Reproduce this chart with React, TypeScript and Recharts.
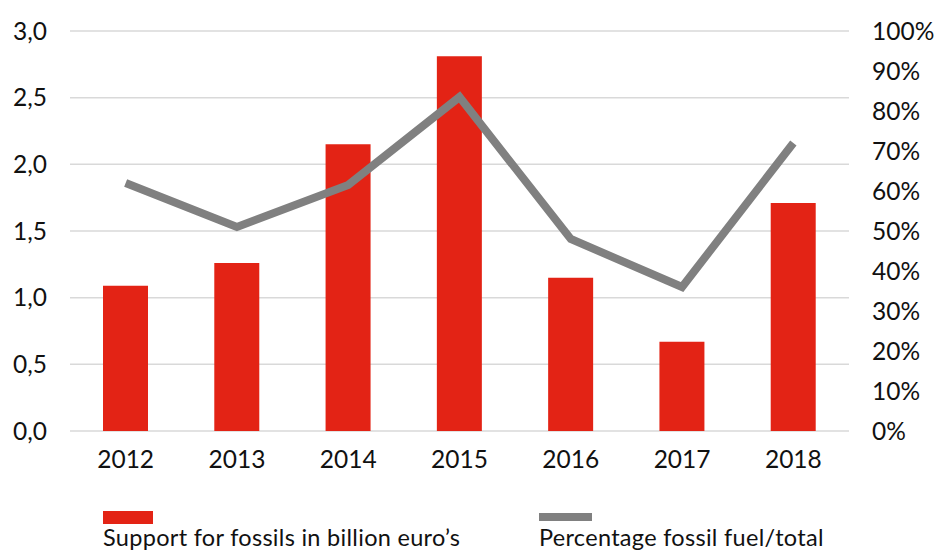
import { ComposedChart, Bar, Line, XAxis, YAxis, CartesianGrid, Legend } from 'recharts';

const YEARS = ['2012', '2013', '2014', '2015', '2016', '2017', '2018'];
const SUPPORT_BN = [1.09, 1.26, 2.15, 2.81, 1.15, 0.67, 1.71];
const FOSSIL_PCT = [62, 51, 61.5, 83.5, 48, 36, 72];
const LEFT_TICKS = [0, 0.5, 1, 1.5, 2, 2.5, 3];
const RIGHT_TICKS = [0, 10, 20, 30, 40, 50, 60, 70, 80, 90, 100];

const RED = '#e32315';
const GREY = '#808080';
const FONT = 'Lato, "Open Sans", sans-serif';

const data = YEARS.map((year, i) => ({ year, support: SUPPORT_BN[i], pct: FOSSIL_PCT[i] }));

function ChartLegend() {
  return (
    <div style={{ position: 'relative', height: 70, width: 938, fontFamily: FONT, fontSize: 23.5, color: '#111', lineHeight: '26px' }}>
      <div style={{ position: 'absolute', left: 103, top: 30, width: 50, height: 13, background: RED }} />
      <div style={{ position: 'absolute', left: 103, top: 43, whiteSpace: 'nowrap', letterSpacing: 0.3 }}>Support for fossils in billion euro’s</div>
      <div style={{ position: 'absolute', left: 539, top: 32, width: 53, height: 8, background: GREY }} />
      <div style={{ position: 'absolute', left: 539, top: 43, whiteSpace: 'nowrap', letterSpacing: 0.3 }}>Percentage fossil fuel/total</div>
    </div>
  );
}

export default function App() {
  const tick = { fill: '#111', fontSize: 24.5, fontFamily: FONT };
  return (
    <div style={{ position: 'absolute', left: 0, top: 0, background: '#fff' }}>
      <ComposedChart width={938} height={551} data={data} margin={{ top: 31, right: 0, bottom: 0, left: 0 }}>
        <CartesianGrid vertical={false} stroke="#d9d9d9" strokeWidth={1.5} yAxisId="left" />
        <XAxis dataKey="year" axisLine={false} tickLine={false} tick={tick} tickMargin={14} height={50} />
        <YAxis yAxisId="left" domain={[0, 3]} ticks={LEFT_TICKS} interval={0} axisLine={false} tickLine={false}
          tick={tick} tickMargin={17} width={70} tickFormatter={(v: number) => v.toFixed(1).replace('.', ',')} />
        <YAxis yAxisId="right" orientation="right" domain={[0, 100]} ticks={RIGHT_TICKS} interval={0} axisLine={false}
          tickLine={false} tick={{ ...tick, textAnchor: 'start' }} tickMargin={17} width={89} tickFormatter={(v: number) => `${v}%`} />
        <Bar yAxisId="left" dataKey="support" fill={RED} barSize={45} isAnimationActive={false} />
        <Line yAxisId="right" dataKey="pct" stroke={GREY} strokeWidth={8} dot={false} type="linear" isAnimationActive={false} />
        <Legend verticalAlign="bottom" content={() => <ChartLegend />} wrapperStyle={{ left: 0, width: 938, height: 70 }} />
      </ComposedChart>
    </div>
  );
}
